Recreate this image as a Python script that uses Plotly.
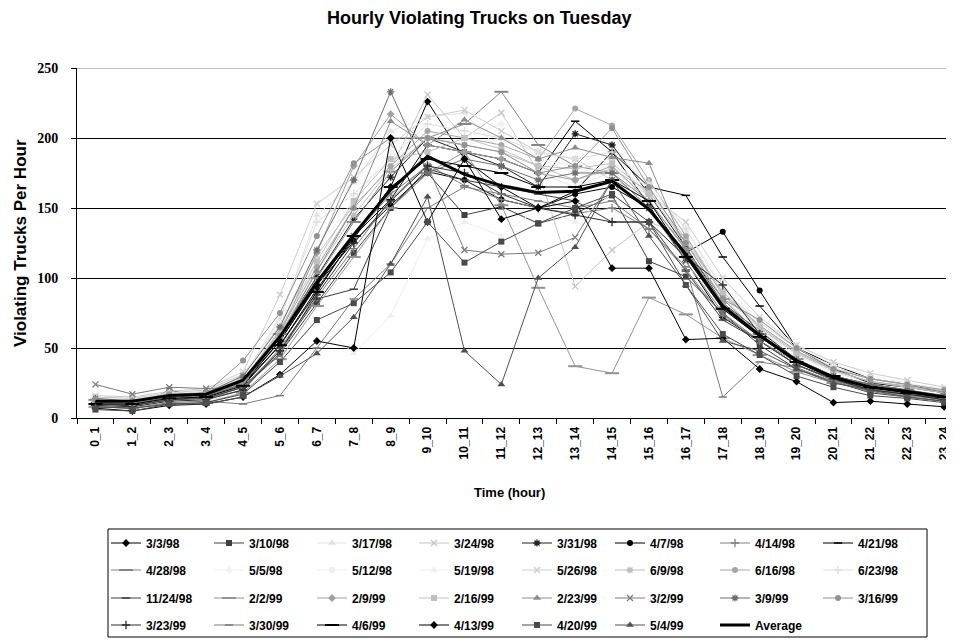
import plotly.graph_objects as go

hours = ["0_1", "1_2", "2_3", "3_4", "4_5", "5_6", "6_7", "7_8", "8_9", "9_10",
         "10_11", "11_12", "12_13", "13_14", "14_15", "15_16", "16_17", "17_18",
         "18_19", "19_20", "20_21", "21_22", "22_23", "23_24"]

dates = ["3/3/98", "3/10/98", "3/17/98", "3/24/98", "3/31/98", "4/7/98", "4/14/98", "4/21/98",
         "4/28/98", "5/5/98", "5/12/98", "5/19/98", "5/26/98", "6/9/98", "6/16/98", "6/23/98",
         "11/24/98", "2/2/99", "2/9/99", "2/16/99", "2/23/99", "3/2/99", "3/9/99", "3/16/99",
         "3/23/99", "3/30/99", "4/6/99", "4/13/99", "4/20/99", "5/4/99"]

s01 = [10, 9, 13, 15, 24, 52, 92, 128, 165, 226, 185, 165, 150, 162, 190, 152, 112, 72, 55, 38, 27, 20, 17, 13]
s02 = [8, 7, 20, 14, 22, 46, 82, 118, 150, 175, 145, 151, 139, 146, 159, 112, 101, 75, 52, 35, 26, 18, 15, 12]
s03 = [12, 10, 15, 17, 29, 70, 145, 168, 205, 215, 218, 190, 175, 165, 176, 160, 125, 86, 62, 45, 33, 25, 22, 18]
s04 = [15, 14, 18, 20, 31, 66, 116, 152, 178, 231, 200, 218, 176, 94, 120, 140, 130, 90, 66, 48, 35, 28, 24, 20]
s05 = [12, 11, 16, 17, 26, 59, 101, 142, 172, 200, 190, 180, 165, 203, 195, 160, 122, 82, 62, 42, 30, 24, 20, 15]
s06 = [10, 9, 14, 15, 24, 55, 95, 126, 152, 176, 170, 156, 150, 160, 165, 150, 118, 133, 91, 50, 35, 25, 22, 18]
s07 = [9, 10, 13, 14, 20, 50, 86, 121, 156, 181, 166, 156, 150, 146, 150, 135, 106, 73, 55, 38, 27, 20, 18, 14]
s08 = [11, 10, 15, 16, 25, 55, 95, 130, 156, 195, 190, 185, 175, 212, 190, 165, 159, 115, 80, 50, 38, 28, 24, 18]
s09 = [13, 12, 16, 18, 28, 60, 100, 140, 176, 200, 210, 233, 195, 180, 175, 155, 121, 85, 60, 42, 30, 24, 20, 16]
s10 = [14, 13, 17, 19, 30, 68, 120, 156, 190, 205, 200, 210, 185, 180, 185, 160, 130, 90, 68, 50, 36, 28, 24, 20]
s11 = [13, 12, 16, 18, 28, 62, 110, 150, 180, 200, 195, 200, 185, 175, 180, 165, 135, 95, 70, 52, 38, 30, 25, 21]
s12 = [9, 8, 11, 12, 18, 40, 70, 46, 73, 128, 140, 130, 150, 140, 160, 140, 110, 80, 58, 40, 30, 22, 18, 14]
s13 = [16, 15, 19, 21, 33, 88, 153, 172, 195, 215, 220, 205, 190, 185, 170, 160, 140, 100, 72, 52, 40, 32, 27, 22]
s14 = [12, 11, 15, 17, 27, 60, 105, 145, 178, 200, 195, 190, 180, 170, 178, 162, 128, 88, 64, 46, 34, 26, 22, 18]
s15 = [12, 12, 16, 17, 26, 62, 108, 150, 180, 205, 200, 195, 185, 221, 209, 170, 130, 88, 66, 48, 34, 26, 23, 19]
s16 = [14, 13, 18, 19, 29, 72, 140, 160, 185, 210, 205, 200, 190, 185, 190, 168, 135, 92, 68, 50, 36, 28, 24, 20]
s17 = [10, 9, 13, 14, 22, 48, 85, 92, 150, 178, 170, 165, 160, 155, 140, 140, 105, 70, 55, 38, 28, 20, 17, 14]
s18 = [8, 7, 10, 11, 18, 42, 80, 115, 150, 175, 190, 152, 93, 37, 32, 86, 74, 57, 45, 33, 25, 20, 16, 13]
s19 = [11, 10, 14, 16, 25, 60, 118, 180, 217, 195, 190, 185, 175, 170, 180, 155, 120, 82, 60, 42, 30, 23, 19, 15]
s20 = [12, 11, 16, 17, 27, 63, 112, 155, 185, 190, 200, 192, 180, 178, 182, 160, 125, 90, 65, 47, 34, 26, 22, 18]
s21 = [10, 10, 14, 15, 24, 58, 105, 150, 212, 195, 213, 200, 185, 193, 186, 182, 120, 80, 58, 40, 30, 23, 19, 15]
s22 = [24, 17, 22, 21, 22, 45, 90, 130, 160, 180, 120, 117, 118, 129, 170, 150, 112, 75, 55, 40, 28, 22, 18, 15]
s23 = [14, 12, 16, 18, 30, 65, 120, 170, 233, 175, 185, 180, 170, 175, 175, 150, 115, 78, 58, 40, 30, 24, 20, 16]
s24 = [13, 12, 17, 18, 41, 75, 130, 182, 200, 200, 195, 190, 175, 180, 207, 165, 125, 85, 70, 50, 35, 28, 24, 20]
s25 = [9, 8, 12, 13, 20, 48, 88, 125, 155, 180, 175, 160, 150, 145, 140, 140, 115, 95, 60, 40, 28, 20, 17, 13]
s26 = [8, 7, 11, 12, 10, 16, 50, 85, 110, 150, 165, 160, 155, 150, 155, 135, 108, 15, 40, 36, 26, 19, 15, 12]
s27 = [10, 10, 14, 15, 23, 52, 90, 130, 165, 185, 180, 175, 165, 165, 170, 155, 115, 78, 58, 40, 30, 22, 18, 15]
s28 = [7, 5, 9, 10, 15, 31, 55, 50, 200, 140, 185, 142, 150, 155, 107, 107, 56, 57, 35, 26, 11, 12, 10, 8]
s29 = [6, 5, 10, 11, 17, 40, 70, 82, 104, 140, 111, 126, 139, 150, 160, 140, 95, 60, 45, 30, 22, 16, 14, 11]
s30 = [8, 7, 10, 10, 15, 30, 46, 72, 110, 158, 48, 24, 100, 122, 170, 130, 95, 55, 48, 35, 25, 20, 15, 12]

average = [12, 12, 16, 17, 27, 58, 97, 131, 163, 187, 174, 166, 161, 162, 169, 149, 117, 80, 59, 41, 29, 22, 19, 15]

series = [s01, s02, s03, s04, s05, s06, s07, s08, s09, s10, s11, s12, s13, s14, s15,
          s16, s17, s18, s19, s20, s21, s22, s23, s24, s25, s26, s27, s28, s29, s30]

colors = ["#000000", "#404040", "#e2e2e2", "#c4c4c4", "#202020", "#000000", "#808080", "#000000",
          "#858585", "#f2f2f2", "#f0f0f0", "#eeeeee", "#cccccc", "#bdbdbd", "#a6a6a6", "#dedede",
          "#3c3c3c", "#939393", "#a0a0a0", "#c0c0c0", "#8c8c8c", "#7a7a7a", "#6e6e6e", "#929292",
          "#2c2c2c", "#7c7c7c", "#000000", "#000000", "#4a4a4a", "#505050"]

# Excel's 9-step marker cycle
marker_cycle = ["diamond", "square", "triangle-up", "x-thin-open", "asterisk-open", "circle",
                "cross-thin-open", "line-ew-open", "line-ew"]

# reference-pixel positions of legend columns (text start) and rows (centre)
col_text_x = [146, 249, 352, 454, 557, 650, 755, 858]
row_y = [543, 570, 598, 625]

OFF = 8  # page body margin
W, H = 954 - OFF, 643 - OFF
PL, PT, PR_EDGE, PB_EDGE = 77 - OFF, 68 - OFF, W, 418 - OFF

fig = go.Figure()
legend_layout = {}


def legend_key(i):
    return "legend" if i == 0 else "legend%d" % (i + 1)


def add_legend(i):
    r, c = divmod(i, 8)
    legend_layout[legend_key(i)] = dict(
        x=(col_text_x[c] - OFF - 40) / W, y=1 - (row_y[r] - OFF - 14.5) / H,
        xref="container", yref="container", xanchor="left", yanchor="top",
        bgcolor="rgba(0,0,0,0)", borderwidth=0,
        font=dict(family="Liberation Sans", size=12, color="black", weight="bold"),
    )


for i, (name, vals) in enumerate(zip(dates, series)):
    sym = marker_cycle[i % 9]
    col = colors[i]
    size = 6
    lw = 0
    if sym == "triangle-up":
        size = 7
    elif sym in ("x-thin-open", "asterisk-open", "cross-thin-open"):
        lw = 1.3
    elif sym == "line-ew-open":
        lw = 1.5
    elif sym == "line-ew":
        size = 10
        lw = 2
    fig.add_trace(go.Scatter(
        x=hours, y=vals, name=name, mode="lines+markers",
        line=dict(color=col, width=1),
        marker=dict(symbol=sym, size=size, color=col, line=dict(color=col, width=lw)),
        legend=legend_key(i),
    ))
    add_legend(i)

fig.add_trace(go.Scatter(
    x=hours, y=average, name="Average", mode="lines",
    line=dict(color="black", width=3), legend=legend_key(30),
))
add_legend(30)


def px_to_paper_x(px):
    return (px - OFF - PL) / (PR_EDGE - PL)


def px_to_paper_y(py):
    return (PB_EDGE - (py - OFF)) / (PB_EDGE - PT)


shapes = [
    dict(type="line", xref="paper", yref="y", x0=0, x1=1, y0=250, y1=250,
         line=dict(color="#a8a8a8", width=1.5), layer="above"),
    dict(type="rect", xref="paper", yref="paper",
         x0=px_to_paper_x(108), x1=px_to_paper_x(927),
         y0=px_to_paper_y(529), y1=px_to_paper_y(637),
         line=dict(color="black", width=1), layer="above"),
]

annotations = [
    dict(text="<b>Hourly Violating Trucks on Tuesday</b>", xref="paper", yref="paper",
         x=px_to_paper_x(479), y=px_to_paper_y(18), showarrow=False,
         xanchor="center", yanchor="middle",
         font=dict(family="Liberation Sans", size=18, color="black")),
    dict(text="<b>Violating Trucks Per Hour</b>", xref="paper", yref="paper",
         x=px_to_paper_x(20), y=px_to_paper_y(243), textangle=-90, showarrow=False,
         xanchor="center", yanchor="middle",
         font=dict(family="Liberation Sans", size=17, color="black")),
    dict(text="<b>Time (hour)</b>", xref="paper", yref="paper",
         x=px_to_paper_x(509), y=px_to_paper_y(492), showarrow=False,
         xanchor="center", yanchor="middle",
         font=dict(family="Liberation Sans", size=13, color="black")),
]

fig.update_layout(
    width=W, height=H,
    margin=dict(l=PL, r=W - PR_EDGE, t=PT, b=H - PB_EDGE, pad=0, autoexpand=False),
    plot_bgcolor="white", paper_bgcolor="white",
    showlegend=True,
    shapes=shapes,
    annotations=annotations,
    **legend_layout,
)

fig.update_xaxes(
    type="category", categoryorder="array", categoryarray=hours,
    range=[-0.5, -0.5 + (PR_EDGE - PL) / 36.9],
    tickson="boundaries", ticks="outside", ticklen=5, tickcolor="black",
    showline=True, linecolor="black", linewidth=1, showgrid=False, zeroline=False,
    tickangle=-90, ticklabelstandoff=3,
    tickfont=dict(family="Liberation Sans", size=12, color="black", weight="bold"),
)
fig.update_yaxes(
    range=[0, 250], tickvals=[0, 50, 100, 150, 200, 250],
    ticks="outside", ticklen=5, tickcolor="black",
    showline=True, linecolor="black", linewidth=1,
    showgrid=True, gridcolor="black", gridwidth=1, zeroline=False,
    ticklabelstandoff=10,
    tickfont=dict(family="Liberation Serif", size=14, color="black", weight="bold"),
)

fig.write_html("out.html")
